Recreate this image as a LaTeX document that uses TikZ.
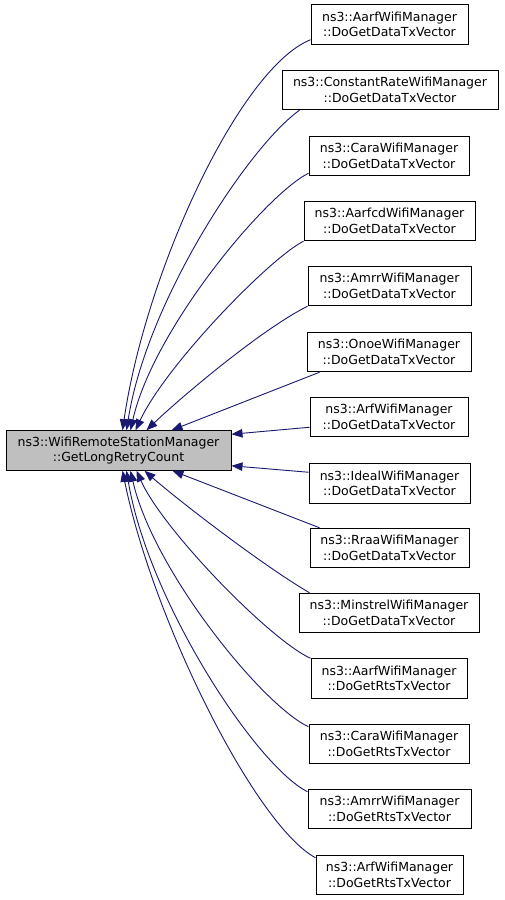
\documentclass[tikz,border=0pt]{standalone}
\usepackage{fontspec}
\setmainfont{DejaVu Sans}
\usetikzlibrary{arrows.meta,calc}
\definecolor{edgeblue}{HTML}{191970}
\definecolor{maingrey}{HTML}{BFBFBF}
\begin{document}
\begin{tikzpicture}[x=1pt,y=-1pt,
  box/.style={draw=black, line width=1pt, fill=white, minimum height=39.5pt, inner sep=0pt, align=center, font=\fontsize{12.5}{15.5}\selectfont},
  mainbox/.style={box, fill=maingrey},
  edge/.style={draw=edgeblue, line width=0.9pt, -{Triangle[length=11pt,width=8.5pt]}}
]
\useasboundingbox[fill=white] (0,0) rectangle (504,900);

\node[mainbox, minimum width=225pt] (m) at (118.5,450.5) {ns3::WifiRemoteStationManager\\::GetLongRetryCount};

\node[box, minimum width=157pt] (r1) at (389.5,24.5) {ns3::AarfWifiManager\\::DoGetDataTxVector};
\node[box, minimum width=216pt] (r2) at (390,90) {ns3::ConstantRateWifiManager\\::DoGetDataTxVector};
\node[box, minimum width=160pt] (r3) at (389,156) {ns3::CaraWifiManager\\::DoGetDataTxVector};
\node[box, minimum width=171pt] (r4) at (389.5,221) {ns3::AarfcdWifiManager\\::DoGetDataTxVector};
\node[box, minimum width=163pt] (r5) at (389.5,286) {ns3::AmrrWifiManager\\::DoGetDataTxVector};
\node[box, minimum width=164pt] (r6) at (389,352) {ns3::OnoeWifiManager\\::DoGetDataTxVector};
\node[box, minimum width=158pt] (r7) at (389,417) {ns3::ArfWifiManager\\::DoGetDataTxVector};
\node[box, minimum width=161pt] (r8) at (389.5,483.5) {ns3::IdealWifiManager\\::DoGetDataTxVector};
\node[box, minimum width=159pt] (r9) at (389.5,548) {ns3::RraaWifiManager\\::DoGetDataTxVector};
\node[box, minimum width=180pt] (r10) at (389,613) {ns3::MinstrelWifiManager\\::DoGetDataTxVector};
\node[box, minimum width=156pt] (r11) at (389,678.5) {ns3::AarfWifiManager\\::DoGetRtsTxVector};
\node[box, minimum width=160pt] (r12) at (389,744) {ns3::CaraWifiManager\\::DoGetRtsTxVector};
\node[box, minimum width=163pt] (r13) at (389.5,809) {ns3::AmrrWifiManager\\::DoGetRtsTxVector};
\node[box, minimum width=147pt] (r14) at (389.5,875) {ns3::ArfWifiManager\\::DoGetRtsTxVector};

\draw[edge] ([yshift=5pt]r1.south west) .. controls (240,68) and (146,270) .. ([xshift=117pt]m.north west);
\draw[edge] ([xshift=18pt]r2.south west) .. controls (250,145) and (147,300) .. ([xshift=121pt]m.north west);
\draw[edge] ([yshift=3pt]r3.south west) .. controls (265,195) and (153,330) .. ([xshift=125pt]m.north west);
\draw[edge] (r4.south west) .. controls (270,258) and (166,365) .. ([xshift=130pt]m.north west);
\draw[edge] (r5.south west) .. controls (260,330) and (178,400) .. ([xshift=141pt]m.north west);
\draw[edge] ([xshift=13pt]r6.south west) -- ([xshift=166pt]m.north west);
\draw[edge] ([yshift=10pt]r7.south west) -- ([yshift=-4pt]m.north east);
\draw[edge] ([yshift=-9pt]r8.north west) -- ([yshift=5pt]m.south east);
\draw[edge] ([xshift=10pt]r9.north west) -- ([xshift=167pt]m.south west);
\draw[edge] ([xshift=11pt]r10.north west) .. controls (262,565) and (178,500) .. ([xshift=139pt]m.south west);
\draw[edge] (r11.north west) .. controls (270,640) and (163,530) .. ([xshift=131pt]m.south west);
\draw[edge] ([yshift=-3pt]r12.north west) .. controls (262,705) and (153,570) .. ([xshift=125pt]m.south west);
\draw[edge] ([yshift=-3pt]r13.north west) .. controls (255,765) and (148,600) .. ([xshift=121pt]m.south west);
\draw[edge] ([yshift=-3pt]r14.north west) .. controls (255,825) and (153,620) .. ([xshift=117pt]m.south west);
\end{tikzpicture}
\end{document}
